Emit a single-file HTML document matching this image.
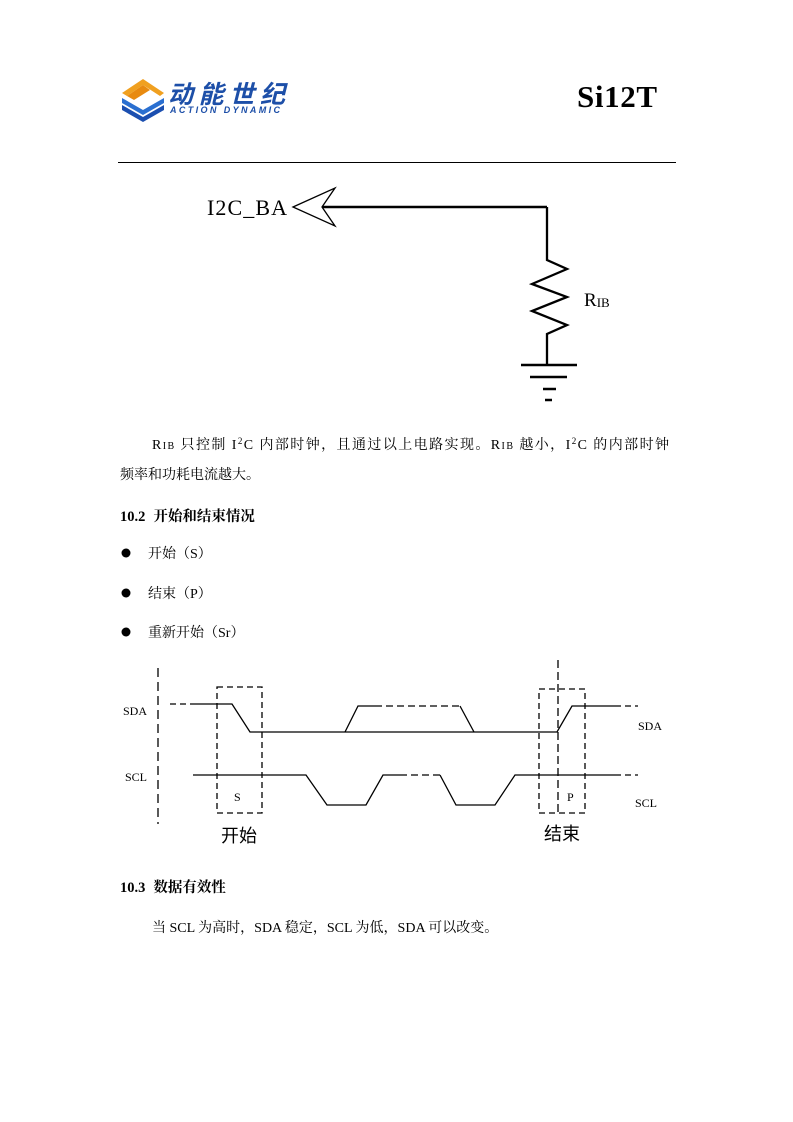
<!DOCTYPE html>
<html><head><meta charset="utf-8"><style>
body{margin:0;background:#fff;}
svg{display:block}
</style></head><body>
<svg width="793" height="1122" viewBox="0 0 793 1122" xmlns="http://www.w3.org/2000/svg" font-family="Liberation Serif, Noto Serif CJK SC, serif">
<!-- logo -->
<polygon points="122,93 143,79 164,93 160,96 143,85 127,96" fill="#f0a020"/>
<polygon points="127,96 143,85 150,90 134,100" fill="#e88a10"/>
<polygon points="122,98 143,110 164,98 164,103 143,115 122,103" fill="#2a6fd0"/>
<polygon points="122,105 143,117 164,105 164,110 143,122 122,110" fill="#1b4fb0"/>
<text x="168" y="103" font-family="Liberation Sans, Noto Sans CJK SC, sans-serif" font-size="25" font-weight="bold" font-style="italic" fill="#1d4fa8" textLength="117">动能世纪</text>
<text x="170" y="113" font-family="Liberation Sans, sans-serif" font-size="9" font-weight="bold" font-style="italic" fill="#1d4fa8" textLength="110">ACTION DYNAMIC</text>
<text x="577" y="107" font-size="31" font-weight="bold" textLength="80">Si12T</text>
<line x1="118" y1="162.5" x2="676" y2="162.5" stroke="#000" stroke-width="1"/>

<!-- circuit -->
<text x="207" y="215" font-size="22" textLength="80">I2C_BA</text>
<polygon points="293,207 335,188 322,207 335,226" fill="none" stroke="#000" stroke-width="1.3"/>
<line x1="322" y1="207" x2="547" y2="207" stroke="#000" stroke-width="2.5"/>
<polyline points="547,207 547,260 567,269 532,284 567,297 532,311 567,325 547,334 547,365" fill="none" stroke="#000" stroke-width="2.3"/>
<line x1="521" y1="365" x2="577" y2="365" stroke="#000" stroke-width="2.5"/>
<line x1="530" y1="377" x2="567" y2="377" stroke="#000" stroke-width="2.5"/>
<line x1="543" y1="389" x2="556" y2="389" stroke="#000" stroke-width="2.5"/>
<line x1="545" y1="400" x2="552" y2="400" stroke="#000" stroke-width="2.5"/>
<text x="584" y="306" font-size="19">R<tspan font-size="13" dy="1">IB</tspan></text>

<!-- paragraph -->
<text x="152" y="449" font-size="14" textLength="517">R<tspan font-size="10">IB</tspan> 只控制 I<tspan font-size="9" dy="-5">2</tspan><tspan dy="5">C 内部时钟，且通过以上电路实现。R</tspan><tspan font-size="10">IB</tspan> 越小，I<tspan font-size="9" dy="-5">2</tspan><tspan dy="5">C 的内部时钟</tspan></text>
<text x="120" y="479" font-size="14">频率和功耗电流越大。</text>
<text x="120" y="521" font-size="14.5" font-weight="bold">10.2<tspan dx="8">开始和结束情况</tspan></text>
<circle cx="126" cy="553" r="4.5" fill="#000"/>
<circle cx="126" cy="593" r="4.5" fill="#000"/>
<circle cx="126" cy="632" r="4.5" fill="#000"/>
<text x="148" y="558" font-size="14">开始（S）</text>
<text x="148" y="598" font-size="14">结束（P）</text>
<text x="148" y="637" font-size="14">重新开始（Sr）</text>

<!-- timing diagram -->
<g stroke="#000" fill="none" stroke-width="1.3">
<line x1="158" y1="668" x2="158" y2="824" stroke-dasharray="9,5"/>
<line x1="170" y1="704" x2="191" y2="704" stroke-dasharray="6,4"/>
<polyline points="191,704 232,704 250,732 557,732 572,706 615,706"/>
<polyline points="345,732 358,706 375,706"/>
<line x1="375" y1="706" x2="460" y2="706" stroke-dasharray="7,4"/>
<polyline points="460,706 474,732"/>
<line x1="615" y1="706" x2="638" y2="706" stroke-dasharray="6,4"/>
<polyline points="193,775 306,775 327,805 366,805 383,775 400,775"/>
<line x1="400" y1="775" x2="440" y2="775" stroke-dasharray="7,4"/>
<polyline points="440,775 456,805 495,805 515,775 615,775"/>
<line x1="615" y1="775" x2="638" y2="775" stroke-dasharray="6,4"/>
<rect x="217" y="687" width="45" height="126" stroke-dasharray="6,4"/>
<rect x="539" y="689" width="46" height="124" stroke-dasharray="6,4"/>
<line x1="558" y1="660" x2="558" y2="813" stroke-dasharray="8,4"/>
</g>
<text x="123" y="715" font-size="12">SDA</text>
<text x="125" y="781" font-size="12">SCL</text>
<text x="638" y="730" font-size="12">SDA</text>
<text x="635" y="807" font-size="12">SCL</text>
<text x="234" y="801" font-size="12">S</text>
<text x="567" y="801" font-size="12">P</text>
<text x="221" y="842" font-size="18" font-family="Liberation Sans, Noto Sans CJK SC, sans-serif">开始</text>
<text x="544" y="840" font-size="18" font-family="Liberation Sans, Noto Sans CJK SC, sans-serif">结束</text>

<text x="120" y="892" font-size="14.5" font-weight="bold">10.3<tspan dx="8">数据有效性</tspan></text>
<text x="152" y="932" font-size="14">当 SCL 为高时，SDA 稳定，SCL 为低，SDA 可以改变。</text>
</svg>
</body></html>
